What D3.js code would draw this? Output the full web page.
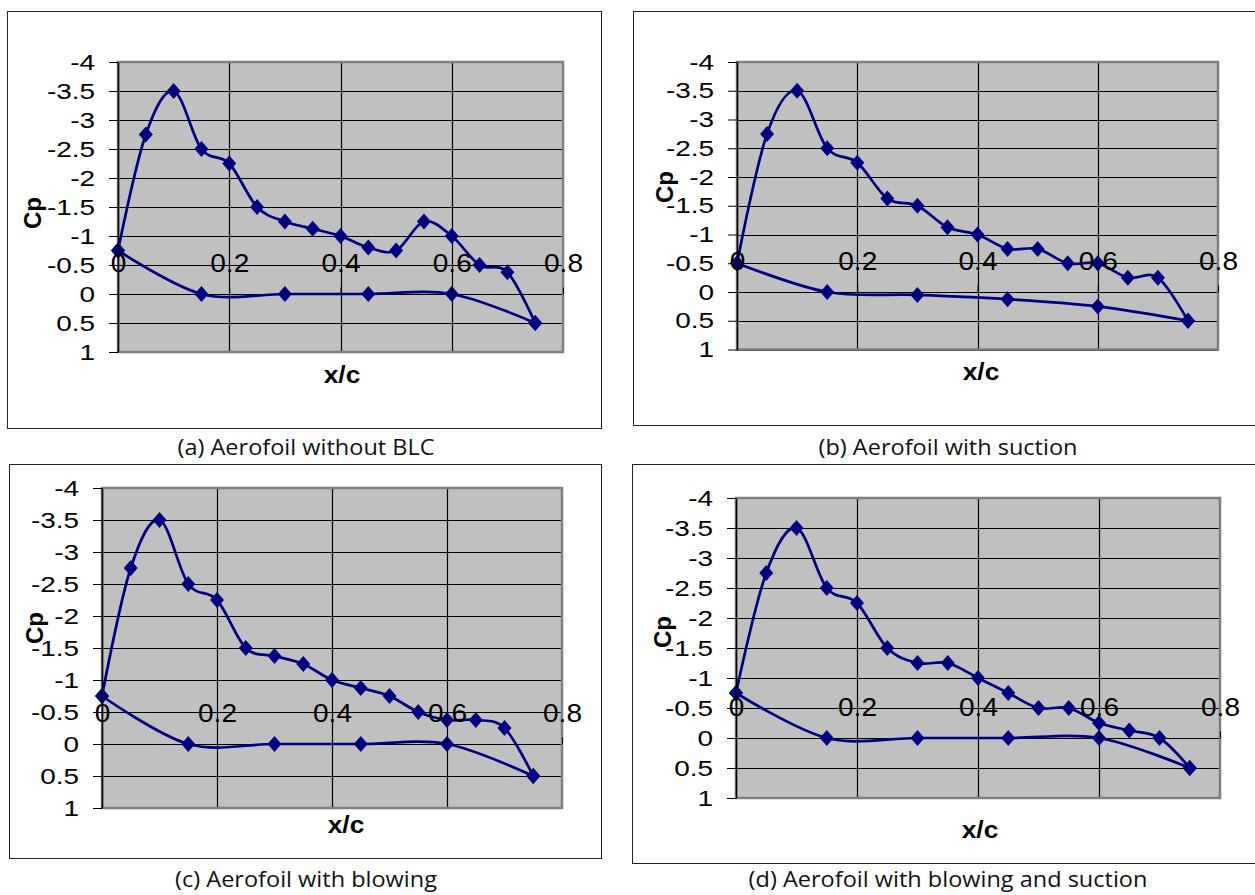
<!DOCTYPE html>
<html>
<head>
<meta charset="utf-8">
<script src="https://cdn.jsdelivr.net/npm/d3@7"></script>
<style>
body { margin: 0; background: #fff; }
svg { display: block; }
</style>
</head>
<body>
<svg id="fig" width="1255" height="895"></svg>
<script>
// x/c stations on the upper and lower surface
var xUpper = [0, 0.05, 0.1, 0.15, 0.2, 0.25, 0.3, 0.35, 0.4, 0.45, 0.5, 0.55, 0.6, 0.65, 0.7, 0.75];
var xLower = [0, 0.15, 0.3, 0.45, 0.6, 0.75];

// Cp
var cpUpperA = [-0.75, -2.75, -3.5, -2.5, -2.25, -1.5, -1.25, -1.125, -1, -0.8, -0.75, -1.25, -1, -0.5, -0.375, 0.5];
var cpLowerA = [-0.75, 0, 0, 0, 0, 0.5];
var cpUpperB = [-0.5, -2.75, -3.5, -2.5, -2.25, -1.625, -1.5, -1.125, -1, -0.75, -0.75, -0.5, -0.5, -0.25, -0.25, 0.5];
var cpLowerB = [-0.5, 0, 0.05, 0.125, 0.25, 0.5];
var cpUpperC = [-0.75, -2.75, -3.5, -2.5, -2.25, -1.5, -1.375, -1.25, -1, -0.875, -0.75, -0.5, -0.375, -0.375, -0.25, 0.5];
var cpLowerC = [-0.75, 0, 0, 0, 0, 0.5];
var cpUpperD = [-0.75, -2.75, -3.5, -2.5, -2.25, -1.5, -1.25, -1.25, -1, -0.75, -0.5, -0.5, -0.25, -0.125, 0, 0.5];
var cpLowerD = [-0.75, 0, 0, 0, 0, 0.5];

var yTicks = [-4, -3.5, -3, -2.5, -2, -1.5, -1, -0.5, 0, 0.5, 1];
var xTicks = [0, 0.2, 0.4, 0.6, 0.8];
var captions = ["(a) Aerofoil without BLC", "(b) Aerofoil with suction",
	"(c) Aerofoil with blowing", "(d) Aerofoil with blowing and suction"];

// layout of each panel (box, plot area, titles)
var panels = [
	{ upper: cpUpperA, lower: cpLowerA, caption: captions[0],
		box: [7.5, 11.5, 601.5, 428.5], plot: [118, 62, 563, 352], cp: [35, 213], xc: [342, 383], cap: [306, 448] },
	{ upper: cpUpperB, lower: cpLowerB, caption: captions[1],
		box: [633.5, 11.5, 1262, 425.5], plot: [737, 62, 1218, 349.5], cp: [667, 187], xc: [981, 380], cap: [948, 448] },
	{ upper: cpUpperC, lower: cpLowerC, caption: captions[2],
		box: [9.5, 464.5, 601.5, 858.5], plot: [102, 488, 562, 808], cp: [37, 628], xc: [346, 833], cap: [306, 880] },
	{ upper: cpUpperD, lower: cpLowerD, caption: captions[3],
		box: [632.5, 464.5, 1262, 863.5], plot: [736, 498, 1220, 798], cp: [665, 632], xc: [980, 838], cap: [948, 880] }
];

var navy = "#000080";
var svg = d3.select("#fig");

function diamond(d) {
	return "M0,-8L7,0L0,8L-7,0Z";
}

function drawPanel(p) {
	var g = svg.append("g");
	var L = p.plot[0], T = p.plot[1], R = p.plot[2], B = p.plot[3];

	// chart box
	g.append("rect")
		.attr("x", p.box[0]).attr("y", p.box[1])
		.attr("width", p.box[2] - p.box[0]).attr("height", p.box[3] - p.box[1])
		.attr("fill", "#fff").attr("stroke", "#222").attr("stroke-width", 1);

	var x = d3.scaleLinear().domain([0, 0.8]).range([L, R]);
	var y = d3.scaleLinear().domain([-4, 1]).range([T, B]);

	// plot area
	g.append("rect")
		.attr("x", L).attr("y", T).attr("width", R - L).attr("height", B - T)
		.attr("fill", "#c0c0c0");

	// gridlines
	g.append("g").selectAll("line").data(yTicks).enter().append("line")
		.attr("x1", L).attr("x2", R)
		.attr("y1", function(d) { return Math.round(y(d)) + 0.5; })
		.attr("y2", function(d) { return Math.round(y(d)) + 0.5; })
		.attr("stroke", "#000").attr("stroke-width", 1.2);
	g.append("g").selectAll("line").data(xTicks.slice(1, -1)).enter().append("line")
		.attr("y1", T).attr("y2", B)
		.attr("x1", function(d) { return Math.round(x(d)) + 0.5; })
		.attr("x2", function(d) { return Math.round(x(d)) + 0.5; })
		.attr("stroke", "#000").attr("stroke-width", 1.2);

	// plot border
	g.append("rect")
		.attr("x", L).attr("y", T).attr("width", R - L).attr("height", B - T)
		.attr("fill", "none").attr("stroke", "#808080").attr("stroke-width", 2.5);

	// series: upper and lower surface
	var line = d3.line()
		.x(function(d) { return x(d[0]); })
		.y(function(d) { return y(d[1]); })
		.curve(d3.curveCardinal.tension(0));
	var upper = xUpper.map(function(v, i) { return [v, p.upper[i]]; });
	var lower = xLower.map(function(v, i) { return [v, p.lower[i]]; });
	[upper, lower].forEach(function(s) {
		g.append("path").datum(s)
			.attr("d", line)
			.attr("fill", "none").attr("stroke", navy).attr("stroke-width", 2.7);
	});
	g.append("g").selectAll("path").data(upper.concat(lower)).enter().append("path")
		.attr("d", diamond)
		.attr("transform", function(d) { return "translate(" + x(d[0]) + "," + y(d[1]) + ")"; })
		.attr("fill", navy);

	// y axis
	var yAxis = g.append("g")
		.attr("transform", "translate(" + L + ",0)")
		.call(d3.axisLeft(y).tickValues(yTicks).tickSize(9).tickSizeOuter(0)
			.tickFormat(function(d) { return String(d); }));
	yAxis.select(".domain").attr("stroke", "#000").attr("stroke-width", 1.5);
	yAxis.selectAll(".tick line").attr("stroke", "#000");
	yAxis.selectAll(".tick text")
		.attr("x", 0)
		.attr("transform", "translate(-23,0) scale(1.27,1)")
		.attr("font-family", "'Liberation Sans', Arial, sans-serif")
		.attr("font-size", 22)
		.attr("fill", "#000");

	// x axis sits on Cp = 0, labels above it
	var xAxis = g.append("g")
		.attr("transform", "translate(0," + (Math.round(y(0)) + 0.5) + ")")
		.call(d3.axisTop(x).tickValues(xTicks).tickSize(7).tickSizeOuter(0)
			.tickFormat(function(d) { return String(d); }));
	xAxis.select(".domain").remove();
	xAxis.selectAll(".tick line").attr("stroke", "#000");
	xAxis.selectAll(".tick text")
		.attr("y", 0)
		.attr("transform", "translate(0,-23) scale(1.1,1)")
		.attr("font-family", "'Liberation Sans', Arial, sans-serif")
		.attr("font-size", 25.5)
		.attr("fill", "#000");

	// axis titles
	g.append("text")
		.attr("transform", "translate(" + p.cp[0] + "," + p.cp[1] + ") rotate(-90)")
		.attr("dy", "0.25em")
		.attr("text-anchor", "middle")
		.attr("font-family", "'Liberation Sans', Arial, sans-serif")
		.attr("font-weight", "bold")
		.attr("font-size", 24)
		.text("Cp");
	g.append("text")
		.attr("transform", "translate(" + p.xc[0] + "," + p.xc[1] + ") scale(1.1,1)")
		.attr("text-anchor", "middle")
		.attr("font-family", "'Liberation Sans', Arial, sans-serif")
		.attr("font-weight", "bold")
		.attr("font-size", 24)
		.text("x/c");

	// caption under the box
	svg.append("text")
		.attr("transform", "translate(" + p.cap[0] + "," + p.cap[1] + ") scale(1.12,1)")
		.attr("text-anchor", "middle")
		.attr("dy", "0.35em")
		.attr("font-family", "'Open Sans', sans-serif")
		.attr("font-size", 21)
		.attr("fill", "#111")
		.text(p.caption);
}

panels.forEach(drawPanel);
</script>
</body>
</html>
